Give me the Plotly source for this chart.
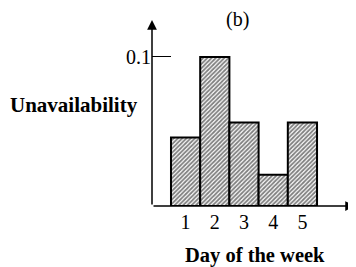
import plotly.graph_objects as go

days = [1, 2, 3, 4, 5]
day_labels = ["1", "2", "3", "4", "5"]
unavailability = [0.046, 0.100, 0.056, 0.021, 0.056]

FONT = "Liberation Serif"
XR = [-0.15, 6.8]
YR = [0, 0.1248]
# page body has an 8px margin, so figure is 348x259 and offset by 8px
W, H = 348, 259
L, R, T, B = 144, 1, 12, 61

fig = go.Figure()
fig.add_trace(go.Bar(
    x=days, y=unavailability, width=1,
    marker=dict(color="white",
                line=dict(color="black", width=2),
                pattern=dict(shape="/", fgcolor="black", bgcolor="white", size=3, solidity=0.6)),
    showlegend=False,
))

pw = W - L - R
ph = H - T - B


def px2paper(px, py):
    return (px - L) / pw, (H - B - py) / ph


texts = [((229.5, 11.5), "(b)", 20), ((66, 97), "<b>Unavailability</b>", 21),
         ((246.5, 247.5), "<b>Day of the week</b>", 20.5)]
anns = [
    dict(x=XR[1], y=0, ax=XR[0], ay=0, xref="x", yref="y", axref="x", ayref="y",
         showarrow=True, arrowhead=2, arrowsize=1.3, arrowwidth=1.5, arrowcolor="black", text=""),
    dict(x=XR[0], y=YR[1], ax=XR[0], ay=0, xref="x", yref="y", axref="x", ayref="y",
         showarrow=True, arrowhead=2, arrowsize=1.3, arrowwidth=1.5, arrowcolor="black", text=""),
]
for (px, py), t, fs in texts:
    x, y = px2paper(px, py)
    anns.append(dict(x=x, y=y, xref="paper", yref="paper", text=t, showarrow=False,
                     xanchor="center", yanchor="middle", font=dict(size=fs)))

fig.update_layout(
    width=W, height=H,
    margin=dict(l=L, r=R, t=T, b=B, autoexpand=False),
    paper_bgcolor="white", plot_bgcolor="white",
    font=dict(family=FONT, color="black", size=20),
    xaxis=dict(range=XR, tickvals=days, ticktext=day_labels, showgrid=False, zeroline=False,
               showline=False, ticks="", ticklabelstandoff=2, tickfont=dict(size=20), automargin=False),
    yaxis=dict(range=YR, tickvals=[0.1], ticktext=["0.1"], showgrid=False, zeroline=False,
               showline=False, ticks="inside", ticklen=19, tickwidth=1, tickcolor="black",
               tickfont=dict(size=20), automargin=False),
    annotations=anns,
)

fig.write_html("out.html")
